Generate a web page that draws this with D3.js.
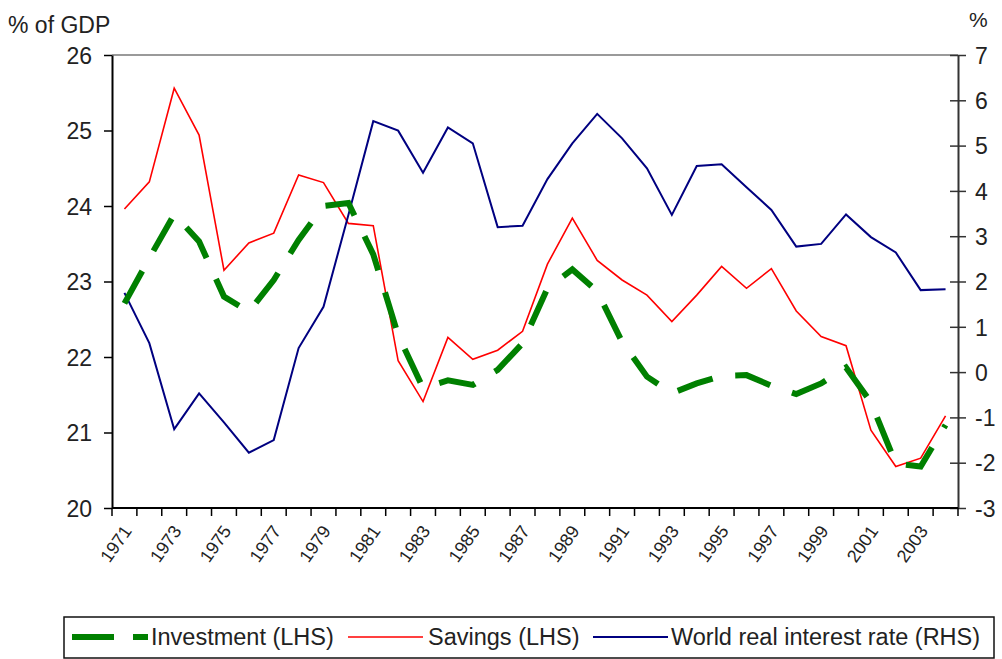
<!DOCTYPE html>
<html>
<head>
<meta charset="utf-8">
<script src="https://cdn.jsdelivr.net/npm/d3@7"></script>
<style>
  body { margin: 0; background: #fff; }
  svg text { font-family: "Liberation Sans", Arial, sans-serif; fill: #222; }
</style>
</head>
<body>
<svg id="chart" width="1002" height="659"></svg>
<script>
var years = d3.range(1971, 2005).map(String);

// % of GDP, left axis
var investment = [22.71, 23.31, 23.89, 23.53, 22.80, 22.60, 23.02, 23.55, 24.00, 24.04,
                  23.36, 22.29, 21.59, 21.69, 21.63, 21.83, 22.18, 22.91, 23.16, 22.87,
                  22.20, 21.74, 21.52, 21.65, 21.75, 21.76, 21.62, 21.51, 21.65, 21.86,
                  21.40, 20.59, 20.55, 21.10];
var savings = [23.96, 24.32, 25.56, 24.94, 23.15, 23.51, 23.64, 24.41, 24.31, 23.77,
               23.74, 21.95, 21.41, 22.26, 21.97, 22.09, 22.34, 23.23, 23.84, 23.28,
               23.02, 22.82, 22.47, 22.82, 23.20, 22.91, 23.17, 22.61, 22.27, 22.15,
               21.03, 20.55, 20.66, 21.22];
// %, right axis
var interest = [1.75, 0.64, -1.26, -0.47, -1.11, -1.78, -1.50, 0.53, 1.44, 3.47,
                5.54, 5.33, 4.40, 5.40, 5.05, 3.20, 3.23, 4.26, 5.05, 5.70,
                5.16, 4.50, 3.47, 4.55, 4.59, 4.08, 3.58, 2.77, 2.83, 3.48,
                2.98, 2.64, 1.81, 1.83];

var leftTicks = [20, 21, 22, 23, 24, 25, 26];
var rightTicks = [-3, -2, -1, 0, 1, 2, 3, 4, 5, 6, 7];
var yearLabels = years.filter(function(d, i) { return i % 2 === 0; });

var seriesNames = ["Investment (LHS)", "Savings (LHS)", "World real interest rate (RHS)"];

var svg = d3.select("#chart");

var plotLeft = 112, plotRight = 958, plotTop = 55, plotBottom = 508;

var x = d3.scaleBand().domain(years).range([plotLeft, plotRight]);
var yL = d3.scaleLinear().domain([20, 26]).range([plotBottom, plotTop]);
var yR = d3.scaleLinear().domain([-3, 7]).range([plotBottom, plotTop]);

var plain = function(d) { return String(d); }; // hyphen minus, like Excel

// top border of plot
svg.append("line")
    .attr("x1", plotLeft).attr("x2", plotRight)
    .attr("y1", plotTop).attr("y2", plotTop)
    .attr("stroke", "#9a9a9a").attr("stroke-width", 2);

// left axis
var gL = svg.append("g")
    .attr("transform", "translate(" + plotLeft + ",0)")
    .call(d3.axisLeft(yL).tickValues(leftTicks).tickFormat(plain)
        .tickSizeInner(8).tickSizeOuter(0).tickPadding(12));
gL.select(".domain").attr("stroke", "#000").attr("stroke-width", 2);
gL.selectAll(".tick line").attr("stroke", "#000").attr("stroke-width", 1.5);
gL.selectAll("text").style("font-size", "23px").attr("fill", "#222").attr("dy", "0.36em");

// right axis (ticks cross the axis)
var gR = svg.append("g")
    .attr("transform", "translate(" + plotRight + ",0)")
    .call(d3.axisRight(yR).tickValues(rightTicks).tickFormat(plain)
        .tickSizeInner(8).tickSizeOuter(0).tickPadding(9));
gR.select(".domain").attr("stroke", "#333").attr("stroke-width", 2);
gR.selectAll(".tick line").attr("x1", -8).attr("x2", 8).attr("stroke", "#333").attr("stroke-width", 1.5);
gR.selectAll("text").style("font-size", "23px").attr("fill", "#222").attr("dy", "0.36em");

// bottom axis: ticks between categories, labels every other year
var gB = svg.append("g")
    .attr("transform", "translate(0," + plotBottom + ")")
    .call(d3.axisBottom(x).tickValues(yearLabels).tickSize(0).tickPadding(0));
gB.select(".domain").remove();
gB.selectAll(".tick text")
    .style("font-size", "18px")
    .attr("text-anchor", "end")
    .attr("dy", 0)
    .attr("y", 0)
    .attr("transform", "translate(8,23) rotate(-55)");

svg.append("line")
    .attr("x1", plotLeft).attr("x2", plotRight)
    .attr("y1", plotBottom).attr("y2", plotBottom)
    .attr("stroke", "#000").attr("stroke-width", 2);
svg.append("g").selectAll("line")
    .data(years.concat(["end"]))
    .enter().append("line")
    .attr("x1", function(d) { return d === "end" ? plotRight : x(d); })
    .attr("x2", function(d) { return d === "end" ? plotRight : x(d); })
    .attr("y1", plotBottom).attr("y2", plotBottom + 8)
    .attr("stroke", "#000").attr("stroke-width", 1.5);

// axis titles
svg.append("text").attr("x", 8).attr("y", 33).style("font-size", "23px").text("% of GDP");
svg.append("text").attr("x", 969).attr("y", 27).style("font-size", "21px").text("%");

// lines
var cx = function(d, i) { return x(years[i]) + x.bandwidth() / 2; };

svg.append("path")
    .datum(savings)
    .attr("fill", "none")
    .attr("stroke", "#ff0000")
    .attr("stroke-width", 1.6)
    .attr("d", d3.line().x(cx).y(function(d) { return yL(d); }));

svg.append("path")
    .datum(interest)
    .attr("fill", "none")
    .attr("stroke", "#000080")
    .attr("stroke-width", 2)
    .attr("d", d3.line().x(cx).y(function(d) { return yR(d); }));

svg.append("path")
    .datum(investment)
    .attr("fill", "none")
    .attr("stroke", "#008000")
    .attr("stroke-width", 6)
    .attr("stroke-dasharray", "37,23")
    .attr("d", d3.line().x(cx).y(function(d) { return yL(d); }));

// legend
var legend = svg.append("g");
legend.append("rect")
    .attr("x", 64).attr("y", 617).attr("width", 930).attr("height", 41)
    .attr("fill", "#fff").attr("stroke", "#111").attr("stroke-width", 1.5);

var legendItems = [
    { name: seriesNames[0], x1: 72, x2: 148, tx: 151, color: "#008000", w: 6, dash: "42,19" },
    { name: seriesNames[1], x1: 348, x2: 423, tx: 428, color: "#ff0000", w: 1.6, dash: null },
    { name: seriesNames[2], x1: 593, x2: 668, tx: 671, color: "#000080", w: 2, dash: null }
];
legendItems.forEach(function(it) {
    legend.append("line")
        .attr("x1", it.x1).attr("x2", it.x2)
        .attr("y1", 637).attr("y2", 637)
        .attr("stroke", it.color).attr("stroke-width", it.w)
        .attr("stroke-dasharray", it.dash);
    legend.append("text")
        .attr("x", it.tx).attr("y", 645)
        .style("font-size", "23.5px")
        .text(it.name);
});
</script>
</body>
</html>
